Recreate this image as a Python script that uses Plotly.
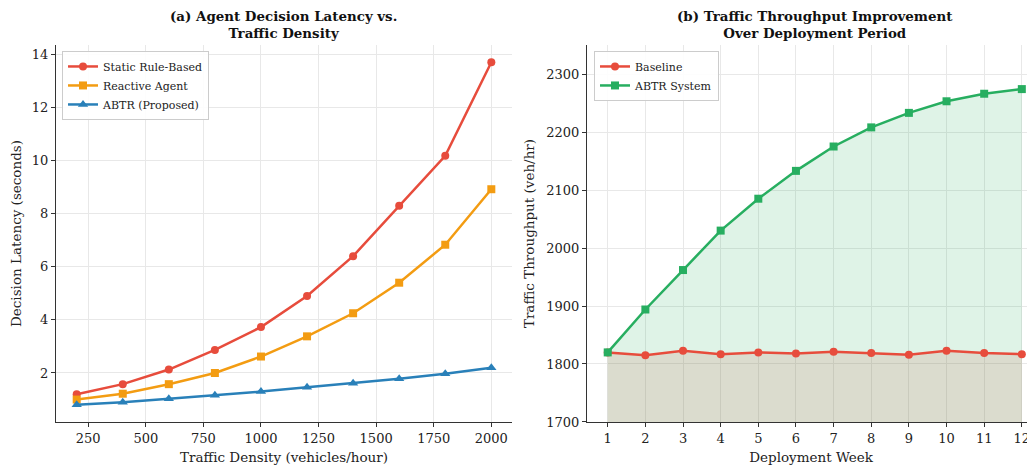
import plotly.graph_objects as go

density = [200, 400, 600, 800, 1000, 1200, 1400, 1600, 1800, 2000]
static_rule = [1.2, 1.58, 2.13, 2.87, 3.73, 4.9, 6.4, 8.3, 10.18, 13.7]
reactive = [1.0, 1.22, 1.58, 2.0, 2.62, 3.38, 4.25, 5.4, 6.83, 8.92]
abtr_latency = [0.8, 0.9, 1.03, 1.16, 1.3, 1.46, 1.61, 1.78, 1.97, 2.2]

weeks = [1, 2, 3, 4, 5, 6, 7, 8, 9, 10, 11, 12]
baseline = [1820, 1815, 1823, 1817, 1820, 1818, 1821, 1819, 1816, 1823, 1819, 1817]
abtr_tp = [1820, 1894, 1962, 2030, 2085, 2133, 2175, 2208, 2233, 2253, 2266, 2274]

RED = "#e74c3c"
ORANGE = "#f39c12"
BLUE = "#2980b9"
GREEN = "#27ae60"
FONT = "DejaVu Serif"

fig = go.Figure()

# Left panel
fig.add_trace(go.Scatter(x=density, y=static_rule, mode="lines+markers", name="Static Rule-Based",
                         line=dict(color=RED, width=2.5), marker=dict(symbol="circle", size=8, color=RED),
                         xaxis="x", yaxis="y", legend="legend"))
fig.add_trace(go.Scatter(x=density, y=reactive, mode="lines+markers", name="Reactive Agent",
                         line=dict(color=ORANGE, width=2.5), marker=dict(symbol="square", size=8, color=ORANGE),
                         xaxis="x", yaxis="y", legend="legend"))
fig.add_trace(go.Scatter(x=density, y=abtr_latency, mode="lines+markers", name="ABTR (Proposed)",
                         line=dict(color=BLUE, width=2.5), marker=dict(symbol="triangle-up", size=9, color=BLUE),
                         xaxis="x", yaxis="y", legend="legend"))

# Right panel fills (baseline first, then ABTR on top)
fig.add_trace(go.Scatter(x=weeks, y=baseline, mode="none", fill="tozeroy",
                         fillcolor="rgba(231,76,60,0.15)", showlegend=False, hoverinfo="skip",
                         xaxis="x2", yaxis="y2"))
fig.add_trace(go.Scatter(x=weeks, y=abtr_tp, mode="none", fill="tozeroy",
                         fillcolor="rgba(39,174,96,0.15)", showlegend=False, hoverinfo="skip",
                         xaxis="x2", yaxis="y2"))
fig.add_trace(go.Scatter(x=weeks, y=baseline, mode="lines+markers", name="Baseline",
                         line=dict(color=RED, width=2.5), marker=dict(symbol="circle", size=8, color=RED),
                         xaxis="x2", yaxis="y2", legend="legend2"))
fig.add_trace(go.Scatter(x=weeks, y=abtr_tp, mode="lines+markers", name="ABTR System",
                         line=dict(color=GREEN, width=2.5), marker=dict(symbol="square", size=8, color=GREEN),
                         xaxis="x2", yaxis="y2", legend="legend2"))

axis_common = dict(showline=True, linecolor="#333333", linewidth=1.2, ticks="outside", ticklen=4,
                   tickcolor="#333333", showgrid=True, gridcolor="#e8e8e8", gridwidth=1, zeroline=False,
                   tickfont=dict(family=FONT, size=13, color="#222222"), automargin=False,
                   title_font=dict(family=FONT, size=13.5, color="#222222"), mirror=False)

legend_common = dict(bgcolor="rgba(255,255,255,0.9)", bordercolor="#cccccc", borderwidth=1,
                     font=dict(family=FONT, size=11, color="#222222"),
                     xanchor="left", yanchor="top", itemwidth=30, tracegroupgap=0)

# The page body has an 8px margin, so the figure is sized/placed to compensate.
fig.update_layout(
    width=1027, height=457,
    margin=dict(l=0, r=0, t=0, b=0),
    paper_bgcolor="white", plot_bgcolor="white",
    xaxis=dict(domain=[0.0467, 0.4908], range=[110, 2090], tickvals=[250, 500, 750, 1000, 1250, 1500, 1750, 2000],
               title=dict(text="Traffic Density (vehicles/hour)", standoff=9), anchor="y", **axis_common),
    yaxis=dict(domain=[0.0941, 0.919], range=[0.155, 14.35], tickvals=[2, 4, 6, 8, 10, 12, 14],
               title=dict(text="Decision Latency (seconds)", standoff=8), anchor="x", **axis_common),
    xaxis2=dict(domain=[0.5638, 1.0], range=[0.45, 12.35], tickvals=weeks,
                title=dict(text="Deployment Week", standoff=9), anchor="y2", **axis_common),
    yaxis2=dict(domain=[0.0941, 0.919], range=[1700, 2350], tickvals=[1700, 1800, 1900, 2000, 2100, 2200, 2300],
                title=dict(text="Traffic Throughput (veh/hr)", standoff=8), anchor="x2", **axis_common),
    legend=dict(x=0.0526, y=0.906, **legend_common),
    legend2=dict(x=0.5706, y=0.906, **legend_common),
    annotations=[
        dict(text="<b>(a) Agent Decision Latency vs.<br>Traffic Density</b>", xref="paper", yref="paper",
             x=0.2687, y=0.923, xanchor="center", yanchor="bottom", showarrow=False,
             font=dict(family=FONT, size=13.4, color="#111111")),
        dict(text="<b>(b) Traffic Throughput Improvement<br>Over Deployment Period</b>", xref="paper", yref="paper",
             x=0.7858, y=0.923, xanchor="center", yanchor="bottom", showarrow=False,
             font=dict(family=FONT, size=13.4, color="#111111")),
    ],
)

fig.write_html("out.html")
